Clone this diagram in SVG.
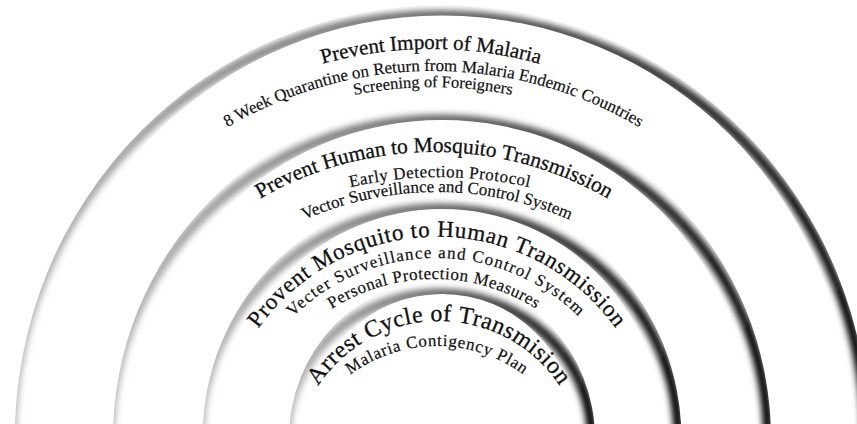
<svg xmlns="http://www.w3.org/2000/svg" width="857" height="424" viewBox="0 0 857 424">
  <style>
    .title { font-family: "Liberation Serif", "Times New Roman", serif; fill: #111; stroke: #111; stroke-width: 0.3; }
    .sub { font-family: "Liberation Serif", "Times New Roman", serif; fill: #111; stroke: #111; stroke-width: 0.2; }
    .edge { fill: none; stroke: url(#edgeShade); stroke-width: 10; filter: url(#soft); }
  </style>
  <defs>
    <!-- edge shading: pale on the left, darkest on the right -->
    <linearGradient id="edgeShade" x1="0" y1="0" x2="1" y2="0">
      <stop offset="0" stop-color="#b8b8b8"/>
      <stop offset="0.45" stop-color="#707070"/>
      <stop offset="0.75" stop-color="#333"/>
      <stop offset="1" stop-color="#000"/>
    </linearGradient>
    <filter id="soft" x="-5%" y="-5%" width="110%" height="110%">
      <feGaussianBlur stdDeviation="3"/>
    </filter>
    <!-- each clip keeps the crescent between a ring edge and a lower, smaller circle -->
    <clipPath id="clip1"><path clip-rule="evenodd" d="M14.8 438.3a427.2 433.2 0 1 0 854.4 0a427.2 433.2 0 1 0 -854.4 0ZM34.8 422.7a407.2 407.2 0 1 0 814.4 0a407.2 407.2 0 1 0 -814.4 0Z"/></clipPath>
    <clipPath id="clip2"><path clip-rule="evenodd" d="M113 438.3a329 335 0 1 0 658 0a329 335 0 1 0 -658 0ZM133 429a309 309 0 1 0 618 0a309 309 0 1 0 -618 0Z"/></clipPath>
    <clipPath id="clip3"><path clip-rule="evenodd" d="M202.5 438.3a239.5 245.5 0 1 0 479 0a239.5 245.5 0 1 0 -479 0ZM222.5 428.5a219.5 219.5 0 1 0 439 0a219.5 219.5 0 1 0 -439 0Z"/></clipPath>
    <clipPath id="clip4"><path clip-rule="evenodd" d="M289 438.3a153 159 0 1 0 306 0a153 159 0 1 0 -306 0ZM309 427a133 133 0 1 0 266 0a133 133 0 1 0 -266 0Z"/></clipPath>
    <!-- baselines for the curved labels -->
    <path id="p1" d="M28 452A403 403 0 0 1 834 452"/>
    <path id="p2" d="M28.5 476A405 405 0 0 1 838.5 476"/>
    <path id="p3" d="M31 489A402 402 0 0 1 835 489"/>
    <path id="p4" d="M87 499A347 347 0 0 1 781 499"/>
    <path id="p5" d="M40 577A400 400 0 0 1 840 577"/>
    <path id="p6" d="M107 522A330 330 0 0 1 767 522"/>
    <path id="p7" d="M217 456.7A220 220 0 0 1 657 456.7"/>
    <path id="p8" d="M233 461A203 203 0 0 1 639 461"/>
    <path id="p9" d="M244 469A190 190 0 0 1 624 469"/>
    <path id="p10" d="M294 466A145 145 0 0 1 584 466"/>
    <path id="p11" d="M292 491A145 145 0 0 1 582 491"/>
  </defs>

  <rect width="857" height="424" fill="#fff"/>

  <g id="ring-import">
    <g clip-path="url(#clip1)"><ellipse class="edge" cx="439" cy="438.3" rx="427.2" ry="423.3"/></g>
    <text class="title" font-size="21"><textPath href="#p1" startOffset="50%" text-anchor="middle">Prevent Import of Malaria</textPath></text>
    <text class="sub" font-size="17"><textPath href="#p2" startOffset="50%" text-anchor="middle">8 Week Quarantine on Return from Malaria Endemic Countries</textPath></text>
    <text class="sub" font-size="16.5"><textPath href="#p3" startOffset="50%" text-anchor="middle">Screening of Foreigners</textPath></text>
  </g>

  <g id="ring-human-to-mosquito">
    <g clip-path="url(#clip2)"><ellipse class="edge" cx="439" cy="438.3" rx="329" ry="318.8"/></g>
    <text class="title" font-size="21.5"><textPath href="#p4" startOffset="50%" text-anchor="middle">Prevent Human to Mosquito Transmission</textPath></text>
    <text class="sub" font-size="17" letter-spacing="0.5"><textPath href="#p5" startOffset="50%" text-anchor="middle">Early Detection Protocol</textPath></text>
    <text class="sub" font-size="17"><textPath href="#p6" startOffset="50%" text-anchor="middle">Vector Surveillance and Control System</textPath></text>
  </g>

  <g id="ring-mosquito-to-human">
    <g clip-path="url(#clip3)"><ellipse class="edge" cx="439" cy="438.3" rx="239.5" ry="229.8"/></g>
    <text class="title" font-size="23" letter-spacing="0.7"><textPath href="#p7" startOffset="50%" text-anchor="middle">Provent Mosquito to Human Transmission</textPath></text>
    <text class="sub" font-size="17" letter-spacing="1.2"><textPath href="#p8" startOffset="50%" text-anchor="middle">Vecter Surveillance and Control System</textPath></text>
    <text class="sub" font-size="17" letter-spacing="0.5"><textPath href="#p9" startOffset="50%" text-anchor="middle">Personal Protection Measures</textPath></text>
  </g>

  <g id="ring-arrest">
    <g clip-path="url(#clip4)"><ellipse class="edge" cx="439" cy="438.3" rx="153" ry="144.8"/></g>
    <text class="title" font-size="24" letter-spacing="0.5"><textPath href="#p10" startOffset="50%" text-anchor="middle">Arrest Cycle of Transmision</textPath></text>
    <text class="sub" font-size="17" letter-spacing="0.7"><textPath href="#p11" startOffset="50%" text-anchor="middle">Malaria Contigency Plan</textPath></text>
  </g>
</svg>
